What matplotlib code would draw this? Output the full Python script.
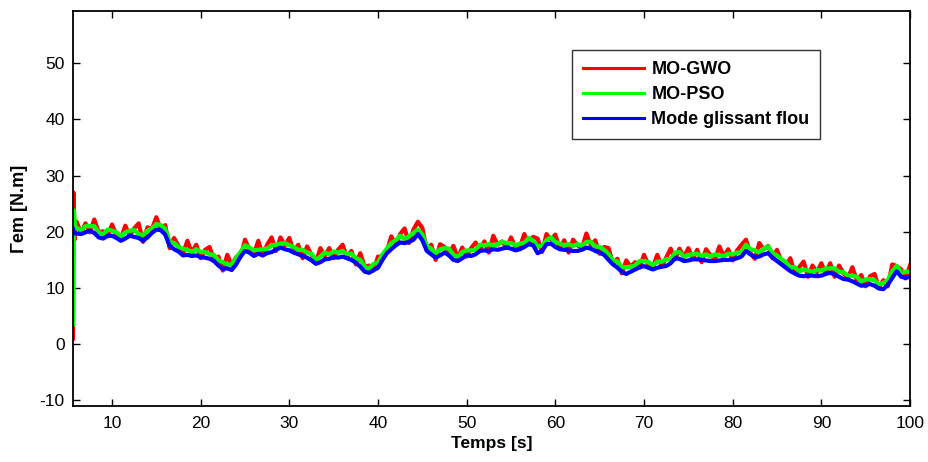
import numpy as np
import matplotlib
matplotlib.use("Agg")
import matplotlib.pyplot as plt

plt.rcParams['font.family'] = ['Liberation Sans', 'DejaVu Sans']
plt.rcParams['axes.unicode_minus'] = False

# ---- data ----
t_start = [5.6, 5.65, 5.7, 5.75, 5.85]
t_main = np.arange(6.0, 100.01, 0.5)

blue_start = [20.5, 20.3, 20.0, 19.8, 19.7]
green_start = [3.5, 10.0, 23.8, 22.5, 21.0]
red_start = [1.0, 27.0, 24.0, 18.5, 21.0]

blue_main = [
    19.7, 19.6, 19.9, 20.2, 19.8, 19.0, 18.8, 19.3, 19.3, 18.9,
    18.4, 18.8, 19.3, 19.1, 18.9, 18.4, 19.0, 19.8, 20.4, 20.3,
    19.5, 17.5, 16.9, 16.5, 15.8, 15.9, 15.7, 15.8, 15.5, 15.4,
    15.2, 14.8, 14.0, 13.4, 13.5, 13.2, 14.2, 15.6, 16.6, 16.3,
    15.7, 16.1, 15.8, 16.2, 16.4, 16.8, 17.2, 16.9, 16.7, 16.3,
    16.0, 15.7, 15.4, 14.9, 14.3, 14.6, 15.1, 15.2, 15.5, 15.4,
    15.6, 15.3, 15.0, 14.5, 13.8, 12.9, 12.7, 13.2, 13.6, 15.0,
    16.2, 16.9, 17.6, 18.1, 18.0, 18.2, 18.6, 19.6, 18.5, 16.6,
    16.0, 15.4, 15.8, 16.3, 15.8, 15.0, 14.8, 15.3, 15.8, 15.7,
    16.0, 16.6, 16.7, 16.6, 16.9, 16.8, 17.0, 17.2, 17.0, 16.7,
    16.9, 17.3, 17.8, 17.6, 16.2, 16.6, 17.8, 17.9, 17.3, 16.9,
    16.8, 16.7, 16.6, 16.6, 16.8, 17.2, 17.0, 16.6, 16.3, 15.9,
    15.0, 14.2, 13.6, 12.9, 12.5, 12.9, 13.3, 13.7, 13.9, 13.6,
    13.3, 13.6, 13.8, 13.9, 14.4, 15.3, 15.2, 14.8, 14.9, 15.1,
    15.1, 15.0, 14.9, 14.8, 14.8, 14.9, 15.0, 15.0, 15.1, 15.3,
    15.6, 16.6, 16.0, 15.5, 15.6, 16.0, 16.2, 15.4, 14.8, 14.2,
    13.6, 13.0, 12.6, 12.2, 12.1, 12.2, 12.2, 12.1, 12.2, 12.5,
    12.7, 12.4, 12.0, 11.6, 11.5, 11.2, 10.8, 10.4, 10.5, 10.7,
    10.4, 9.9, 9.8, 10.6, 11.8, 13.0, 12.0, 11.8, 12.0,
]

green_main = [
    20.7, 20.3, 21.0, 21.0, 21.0, 19.9, 19.5, 20.4, 20.2, 19.9,
    19.2, 19.9, 20.2, 20.3, 19.6, 19.4, 20.2, 20.6, 21.4, 21.2,
    20.5, 18.2, 18.0, 17.3, 17.0, 16.8, 16.4, 16.9, 16.4, 16.4,
    16.0, 15.9, 14.9, 14.6, 14.2, 14.2, 15.4, 16.4, 17.6, 17.2,
    16.7, 16.8, 16.9, 17.0, 17.6, 17.7, 17.9, 18.0, 17.6, 17.3,
    16.8, 16.8, 16.3, 16.1, 15.0, 15.6, 16.3, 16.0, 16.5, 16.3,
    16.6, 16.0, 16.1, 15.3, 15.0, 13.8, 13.4, 14.3, 14.5, 16.0,
    17.0, 18.0, 18.5, 19.3, 18.7, 19.2, 19.8, 20.4, 19.5, 17.5,
    17.0, 16.1, 16.9, 17.1, 17.0, 15.9, 15.5, 16.4, 16.7, 16.7,
    16.8, 17.7, 17.6, 17.8, 17.6, 17.8, 18.2, 18.0, 18.0, 17.6,
    17.9, 18.0, 18.9, 18.4, 17.4, 17.5, 18.5, 19.0, 18.2, 17.9,
    17.6, 17.8, 17.5, 17.8, 17.5, 18.2, 18.2, 17.4, 17.3, 16.8,
    16.0, 14.9, 14.7, 13.7, 13.7, 13.8, 14.0, 14.8, 14.8, 14.6,
    14.1, 14.7, 14.7, 15.1, 15.1, 16.3, 16.4, 15.6, 15.9, 16.0,
    16.1, 15.7, 16.0, 15.6, 16.0, 15.8, 15.7, 16.1, 16.0, 16.3,
    16.4, 17.7, 16.9, 16.7, 16.3, 17.0, 17.4, 16.2, 15.8, 15.1,
    14.6, 13.7, 13.7, 13.0, 13.3, 13.1, 12.9, 13.2, 13.1, 13.5,
    13.5, 13.5, 12.9, 12.8, 12.2, 12.2, 12.0, 11.2, 11.5, 11.6,
    11.4, 10.6, 10.9, 11.4, 13.0, 13.9, 12.7, 12.9, 12.9,
]

red_main = [
    21.8, 19.8, 21.5, 19.9, 22.2, 19.9, 20.1, 19.2, 21.3, 19.4,
    18.8, 21.1, 19.3, 20.6, 21.5, 18.2, 20.8, 20.5, 22.6, 20.4,
    21.2, 17.1, 18.9, 17.5, 16.1, 18.4, 16.3, 17.7, 15.3, 16.8,
    17.3, 15.0, 15.6, 13.1, 15.9, 14.1, 15.5, 15.5, 18.6, 16.8,
    16.1, 18.4, 15.8, 17.7, 19.0, 16.6, 19.0, 17.6, 18.9, 16.4,
    17.7, 15.3, 17.4, 15.9, 14.6, 17.1, 15.7, 17.1, 15.3, 16.8,
    17.7, 15.5, 16.6, 14.2, 16.2, 13.8, 14.0, 13.1, 15.6, 15.5,
    16.6, 19.2, 17.6, 19.6, 20.6, 18.0, 20.4, 21.8, 20.7, 16.7,
    17.7, 15.0, 17.8, 17.3, 16.1, 17.5, 15.4, 17.2, 15.6, 17.1,
    18.1, 16.8, 18.3, 16.3, 19.3, 17.7, 18.3, 17.1, 19.0, 17.2,
    17.3, 19.6, 17.8, 19.1, 18.8, 16.4, 19.6, 18.6, 19.5, 17.0,
    18.5, 16.3, 18.6, 17.6, 17.1, 19.7, 17.6, 18.5, 16.1, 17.3,
    17.1, 14.4, 15.2, 12.6, 14.9, 13.8, 14.6, 13.6, 15.9, 14.1,
    13.7, 15.9, 13.8, 15.4, 17.0, 15.1, 17.0, 15.5, 17.1, 15.2,
    16.8, 14.6, 16.9, 15.8, 15.1, 17.4, 15.6, 16.9, 14.9, 16.7,
    17.7, 18.6, 16.2, 15.2, 18.0, 16.9, 17.5, 15.3, 16.8, 14.7,
    14.0, 15.3, 12.6, 13.7, 14.7, 12.0, 14.0, 12.8, 14.4, 12.6,
    14.4, 12.0, 14.0, 12.6, 11.8, 13.7, 11.4, 12.3, 10.3, 12.1,
    12.5, 10.1, 11.4, 10.3, 14.2, 13.9, 13.3, 11.7, 14.0,
]

labels = ["MO-GWO", "MO-PSO", "Mode glissant flou"]
xticks = [10, 20, 30, 40, 50, 60, 70, 80, 90, 100]
yticks = [-10, 0, 10, 20, 30, 40, 50]

t = np.concatenate([t_start, t_main])
red = np.concatenate([red_start, red_main])
green = np.concatenate([green_start, green_main])
blue = np.concatenate([blue_start, blue_main])

fig = plt.figure(figsize=(9.29, 4.62), dpi=100)
ax = fig.add_axes([73 / 929, 1 - 406 / 462, (910 - 73) / 929, (406 - 11) / 462])

ax.plot(t, red, color="#ff0000", lw=3.0, label=labels[0])
ax.plot(t, green, color="#00ff00", lw=3.1, label=labels[1])
ax.plot(t, blue, color="#0000ff", lw=3.0, label=labels[2])

ax.set_xlim(5.6, 100)
ax.set_ylim(-11, 59.3)
ax.set_xticks(xticks)
ax.set_yticks(yticks)
ax.tick_params(direction="in", length=5, width=1, top=True, right=True,
               labelsize=12.5, pad=6, colors="black")
ax.tick_params(axis="x", pad=7)
for s in ax.spines.values():
    s.set_linewidth(1.3)

ax.set_xlabel("Temps [s]", fontsize=12.5, fontweight="bold", labelpad=4)
ax.set_ylabel("\u0393em [N.m]", fontsize=13, fontweight="bold", labelpad=8)

leg = ax.legend(loc="upper left", bbox_to_anchor=(572 / 929, 1 - 50 / 462),
                bbox_transform=fig.transFigure, borderaxespad=0,
                fancybox=False, frameon=True, edgecolor="black",
                prop={"weight": "bold", "size": 13}, handlelength=3.4,
                labelspacing=0.45, borderpad=0.6, handletextpad=0.4)
leg.get_frame().set_linewidth(1.0)
for h in leg.get_lines():
    h.set_linewidth(2.2)

fig.savefig("out.png", dpi=100)
